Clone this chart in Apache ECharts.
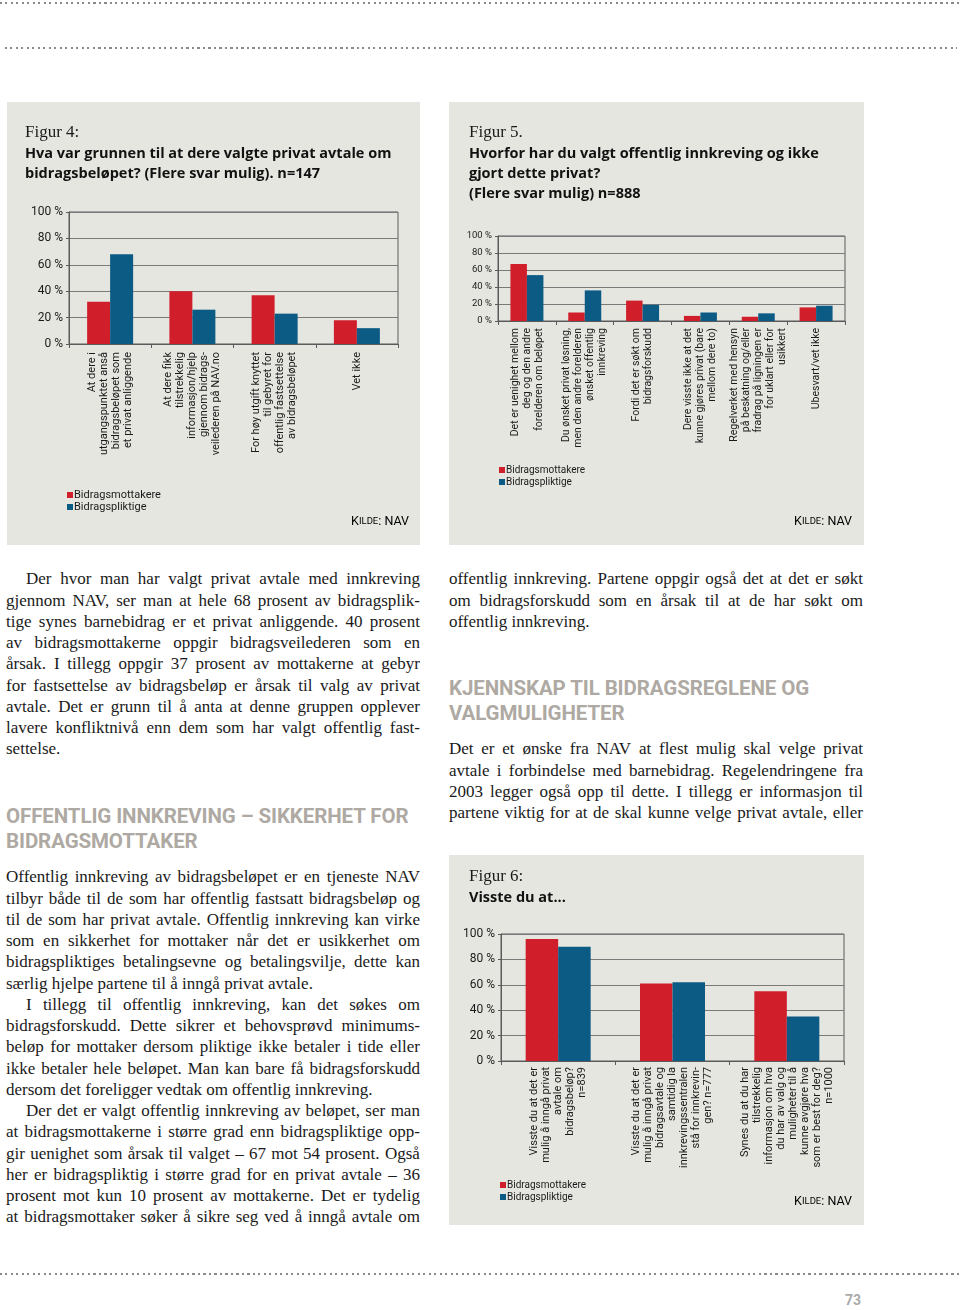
<!DOCTYPE html>
<html><head><meta charset="utf-8">
<script src="https://cdn.jsdelivr.net/npm/echarts@6/dist/echarts.min.js"></script>
<style>
html,body{margin:0;padding:0;background:#fff;}
#page{position:relative;width:960px;height:1310px;overflow:hidden;background:#fff;}
.dots{position:absolute;height:2px;background:repeating-linear-gradient(to right,#8a8a8a 0 2px,transparent 2px 5.5px);}
.panel{position:absolute;}
.col{position:absolute;font-family:'Liberation Serif','Times New Roman',serif;font-size:17px;line-height:21.25px;color:#1a1a1a;}
.ln{display:flex;justify-content:space-between;column-gap:3px;white-space:nowrap;height:21.25px;}
.ln.last{justify-content:flex-start;column-gap:4.25px;}
.ln.indent{padding-left:20px;}
.hd{position:absolute;font-family:Roboto,sans-serif;font-weight:700;font-size:20.5px;line-height:25px;color:#aea9a2;white-space:nowrap;letter-spacing:-0.1px;}
.pg{position:absolute;font-family:Roboto,sans-serif;font-weight:700;font-size:14px;color:#aaa;}
</style></head>
<body>
<div id="page">
  <div class="dots" style="left:0;top:2px;width:960px"></div>
  <div class="dots" style="left:5px;top:47px;width:952px"></div>
  <div class="dots" style="left:0;top:1273px;width:960px"></div>
  <div id="fig4" class="panel" style="left:7px;top:102px;width:413px;height:443px"></div>
  <div id="fig5" class="panel" style="left:449px;top:102px;width:415px;height:443px"></div>
  <div id="fig6" class="panel" style="left:449px;top:855px;width:415px;height:370px"></div>
  <div id="colL1" class="col" style="left:6px;top:568.4px;width:414px"></div>
  <div class="hd" style="left:6px;top:803.5px">OFFENTLIG INNKREVING – SIKKERHET FOR<br>BIDRAGSMOTTAKER</div>
  <div id="colL2" class="col" style="left:6px;top:866.4px;width:414px"></div>
  <div id="colR1" class="col" style="left:449px;top:568.4px;width:414px"></div>
  <div class="hd" style="left:449px;top:675.5px">KJENNSKAP TIL BIDRAGSREGLENE OG<br>VALGMULIGHETER</div>
  <div id="colR2" class="col" style="left:449px;top:738.4px;width:414px"></div>
  <div class="pg" style="left:845px;top:1292px">73</div>
</div>
<script>
// ---------- DATA ----------
const seriesNames = ['Bidragsmottakere', 'Bidragspliktige'];

const fig4Categories = [
  'At dere i\nutgangspunktet anså\nbidragsbeløpet som\net privat anliggende',
  'At dere fikk\ntilstrekkelig\ninformasjon/hjelp\ngjennom bidrags-\nveilederen på NAV.no',
  'For høy utgift knyttet\ntil gebyret for\noffentlig fastsettelse\nav bidragsbeløpet',
  'Vet ikke'
];
const fig4Mottakere = [32, 40, 37, 18];
const fig4Pliktige = [68, 26, 23, 12];

const fig5Categories = [
  'Det er uenighet mellom\ndeg og den andre\nforelderen om beløpet',
  'Du ønsket privat løsning,\nmen den andre forelderen\nønsket offentlig\ninnkreving',
  'Fordi det er søkt om\nbidragsforskudd',
  'Dere visste ikke at det\nkunne gjøres privat (bare\nmellom dere to)',
  'Regelverket med hensyn\npå beskatning og/eller\nfradrag på ligningen er\nfor uklart eller for\nusikkert',
  'Ubesvart/vet ikke'
];
const fig5Mottakere = [67, 10, 24, 6, 5, 16];
const fig5Pliktige = [54, 36, 19, 10, 9, 18];

const fig6Categories = [
  'Visste du at det er\nmulig å inngå privat\navtale om\nbidragsbeløp?\nn=839',
  'Visste du at det er\nmulig å inngå privat\nbidragsavtale og\nsamtidig la\ninnkrevingssentralen\nstå for innkrevin-\ngen? n=777',
  'Synes du at du har\ntilstrekkelig\ninformasjon om hva\ndu har av valg og\nmuligheter til å\nkunne avgjøre hva\nsom er best for deg?\nn=1000'
];
const fig6Mottakere = [96, 61, 55];
const fig6Pliktige = [90, 62, 35];

const yMin = 0, yMax = 100, yStep = 20;

// ---------- TEXT ----------
const textL1 = [
  {indent:true, lines:[
    'Der hvor man har valgt privat avtale med innkreving',
    'gjennom NAV, ser man at hele 68 prosent av bidragsplik-',
    'tige synes barnebidrag er et privat anliggende. 40 prosent',
    'av bidragsmottakerne oppgir bidragsveilederen som en',
    'årsak. I tillegg oppgir 37 prosent av mottakerne at gebyr',
    'for fastsettelse av bidragsbeløp er årsak til valg av privat',
    'avtale. Det er grunn til å anta at denne gruppen opplever',
    'lavere konfliktnivå enn dem som har valgt offentlig fast-',
    'settelse.']}
];
const textL2 = [
  {indent:false, lines:[
    'Offentlig innkreving av bidragsbeløpet er en tjeneste NAV',
    'tilbyr både til de som har offentlig fastsatt bidragsbeløp og',
    'til de som har privat avtale. Offentlig innkreving kan virke',
    'som en sikkerhet for mottaker når det er usikkerhet om',
    'bidragspliktiges betalingsevne og betalingsvilje, dette kan',
    'særlig hjelpe partene til å inngå privat avtale.']},
  {indent:true, lines:[
    'I tillegg til offentlig innkreving, kan det søkes om',
    'bidragsforskudd. Dette sikrer et behovsprøvd minimums-',
    'beløp for mottaker dersom pliktige ikke betaler i tide eller',
    'ikke betaler hele beløpet. Man kan bare få bidragsforskudd',
    'dersom det foreligger vedtak om offentlig innkreving.']},
  {indent:true, continues:true, lines:[
    'Der det er valgt offentlig innkreving av beløpet, ser man',
    'at bidragsmottakerne i større grad enn bidragspliktige opp-',
    'gir uenighet som årsak til valget – 67 mot 54 prosent. Også',
    'her er bidragspliktig i større grad for en privat avtale – 36',
    'prosent mot kun 10 prosent av mottakerne. Det er tydelig',
    'at bidragsmottaker søker å sikre seg ved å inngå avtale om']}
];
const textR1 = [
  {indent:false, lines:[
    'offentlig innkreving. Partene oppgir også det at det er søkt',
    'om bidragsforskudd som en årsak til at de har søkt om',
    'offentlig innkreving.']}
];
const textR2 = [
  {indent:false, continues:true, lines:[
    'Det er et ønske fra NAV at flest mulig skal velge privat',
    'avtale i forbindelse med barnebidrag. Regelendringene fra',
    '2003 legger også opp til dette. I tillegg er informasjon til',
    'partene viktig for at de skal kunne velge privat avtale, eller']}
];

function renderText(id, paragraphs) {
  const el = document.getElementById(id);
  paragraphs.forEach(p => {
    p.lines.forEach((line, i) => {
      const d = document.createElement('div');
      let cls = 'ln';
      if (i === 0 && p.indent) cls += ' indent';
      if (i === p.lines.length - 1 && !p.continues) cls += ' last';
      d.className = cls;
      line.split(' ').forEach(w => {
        const s = document.createElement('span');
        s.textContent = w;
        d.appendChild(s);
      });
      el.appendChild(d);
    });
  });
}
renderText('colL1', textL1);
renderText('colL2', textL2);
renderText('colR1', textR1);
renderText('colR2', textR2);

// ---------- CHARTS ----------
const PANEL_BG = '#e6e6e1';
const RED = '#d01f2b';
const BLUE = '#0b5b84';
const AXIS = '#5a5a5a';
const GRIDLINE = '#7a7a7a';
const SANS = 'Roboto, sans-serif';

function buildChart(id, s) {
  const chart = echarts.init(document.getElementById(id), null, {renderer: 'canvas'});
  chart.setOption({
    backgroundColor: PANEL_BG,
    animation: false,
    title: [
      {text: s.figLabel, left: s.titleLeft, top: s.titleTop, padding: 0,
       textStyle: {fontFamily: "'Liberation Serif', serif", fontWeight: 'normal', fontSize: 17, color: '#1a1a1a'}},
      {text: s.question, left: s.titleLeft, top: s.questionTop, padding: 0,
       textStyle: {fontFamily: "'Open Sans', sans-serif", fontWeight: 'bold', fontSize: 14.5, lineHeight: 20, color: '#111'}}
    ],
    legend: {
      orient: 'vertical', left: s.legendLeft, top: s.legendTop, padding: 0,
      itemWidth: 6, itemHeight: 6, itemGap: 0, icon: 'rect',
      textStyle: {fontFamily: SANS, fontSize: s.legendFont, color: '#1a1a1a', lineHeight: 12, padding: [0, 0, 0, -4]},
      data: seriesNames
    },
    grid: {left: s.grid[0], top: s.grid[1], right: s.grid[2], bottom: s.grid[3],
           show: true, borderColor: AXIS, borderWidth: 1, backgroundColor: 'transparent'},
    xAxis: {
      type: 'category', data: s.categories,
      axisLine: {lineStyle: {color: AXIS, width: 1}},
      axisTick: {show: true, length: 4, lineStyle: {color: AXIS}},
      axisLabel: {interval: 0, rotate: 90, margin: s.labelMargin, fontFamily: SANS,
                  fontSize: s.catFont, lineHeight: 12, color: '#1a1a1a'}
    },
    yAxis: {
      type: 'value', min: yMin, max: yMax, interval: yStep,
      axisLine: {show: true, lineStyle: {color: AXIS, width: 1}},
      axisTick: {show: true, length: 3, lineStyle: {color: AXIS}},
      axisLabel: {formatter: '{value} %', fontFamily: SANS, fontSize: s.yFont, color: '#1a1a1a', margin: 6},
      splitLine: {show: true, lineStyle: {color: GRIDLINE, width: 1}}
    },
    series: [
      {name: seriesNames[0], type: 'bar', data: s.red, barWidth: s.barWidth, barGap: '0%',
       itemStyle: {color: RED}},
      {name: seriesNames[1], type: 'bar', data: s.blue, barWidth: s.barWidth, barGap: '0%',
       itemStyle: {color: BLUE}}
    ],
    graphic: [{
      type: 'text', right: s.kildeRight, top: s.kildeTop,
      style: {
        text: '{a|K}{b|ILDE}{a|: NAV}',
        rich: {
          a: {fontFamily: SANS, fontSize: 12.5, color: '#1a1a1a'},
          b: {fontFamily: SANS, fontSize: 9.5, color: '#1a1a1a'}
        }
      }
    }]
  });
}

buildChart('fig4', {
  figLabel: 'Figur 4:',
  question: 'Hva var grunnen til at dere valgte privat avtale om\nbidragsbeløpet? (Flere svar mulig). n=147',
  titleLeft: 18, titleTop: 22, questionTop: 42,
  legendLeft: 60, legendTop: 387, legendFont: 11,
  grid: [62, 110, 22, 201],
  categories: fig4Categories, red: fig4Mottakere, blue: fig4Pliktige,
  barWidth: 23, catFont: 11, yFont: 12, labelMargin: 8,
  kildeRight: 11, kildeTop: 413
});
buildChart('fig5', {
  figLabel: 'Figur 5.',
  question: 'Hvorfor har du valgt offentlig innkreving og ikke\ngjort dette privat?\n(Flere svar mulig) n=888',
  titleLeft: 20, titleTop: 22, questionTop: 42,
  legendLeft: 50, legendTop: 362, legendFont: 10,
  grid: [49, 134, 19, 224],
  categories: fig5Categories, red: fig5Mottakere, blue: fig5Pliktige,
  barWidth: 16.5, catFont: 10.5, yFont: 9.5, labelMargin: 7,
  kildeRight: 12, kildeTop: 413
});
buildChart('fig6', {
  figLabel: 'Figur 6:',
  question: 'Visste du at...',
  titleLeft: 20, titleTop: 13, questionTop: 33,
  legendLeft: 51, legendTop: 324, legendFont: 10,
  grid: [52, 79, 20, 164],
  categories: fig6Categories, red: fig6Mottakere, blue: fig6Pliktige,
  barWidth: 32.5, catFont: 11, yFont: 12, labelMargin: 6,
  kildeRight: 12, kildeTop: 340
});
</script>
</body></html>
